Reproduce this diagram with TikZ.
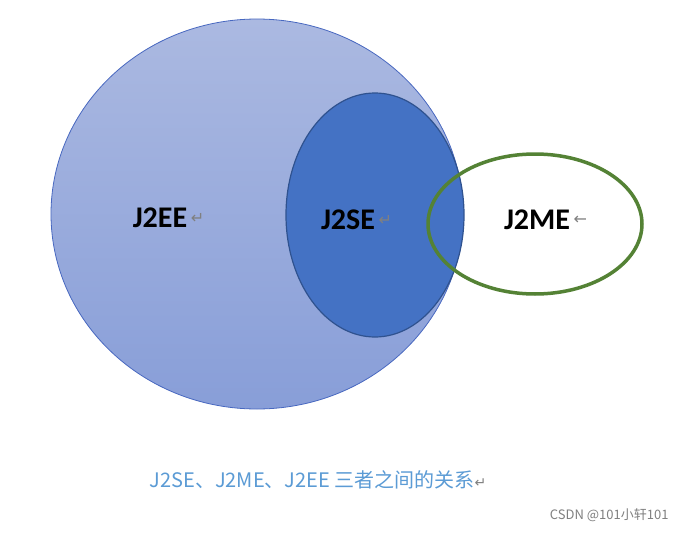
\documentclass[tikz,border=0pt]{standalone}
\usepackage{fontspec}
\setmainfont{Carlito}
\newfontfamily\cjk{Noto Sans CJK SC}
\newfontfamily\djv{DejaVu Sans}
\begin{document}
\begin{tikzpicture}[x=1pt,y=-1pt,
  lbl/.style={font=\bfseries\fontsize{30}{32}\selectfont},
  ret/.style={font=\djv\fontsize{16}{16}\selectfont, text=gray}]
\useasboundingbox[fill=white] (0,0) rectangle (686,533);
\shade[top color={rgb,255:red,171;green,185;blue,225}, bottom color={rgb,255:red,136;green,158;blue,216}]
  (257,214) ellipse [x radius=206, y radius=195];
\draw[draw={rgb,255:red,72;green,104;blue,192}, line width=0.8pt] (257,214) ellipse [x radius=206, y radius=195];
\draw[draw={rgb,255:red,47;green,82;blue,143}, line width=1.2pt, fill={rgb,255:red,68;green,114;blue,196}] (375,215) ellipse [x radius=89, y radius=122];
\draw[draw={rgb,255:red,84;green,130;blue,53}, line width=3.5pt] (535,224) ellipse [x radius=107, y radius=70];
\node[lbl] (ee) at (160,218) {J2EE};
\node[ret, anchor=west, inner sep=0pt] (eer) at (ee.east) {↵};
\node[lbl] (set) at (348,220) {J2SE};
\node[ret, anchor=west, inner sep=0pt] (ser) at (set.east) {↵};
\node[lbl] (me) at (537,220) {J2ME};
\node[ret, anchor=west, inner sep=0pt] (mer) at (me.east) {←};
\node[font=\cjk\fontsize{20}{22}\selectfont, text={rgb,255:red,91;green,155;blue,213}] (cap) at (318,480) {J2SE、J2ME、J2EE 三者之间的关系\textcolor{gray}{\djv\fontsize{14}{14}\selectfont ↵}};
\node[font=\cjk\fontsize{13}{14}\selectfont, text=gray, anchor=east] (wm) at (672,515) {CSDN @101小轩101};
\end{tikzpicture}
\end{document}
